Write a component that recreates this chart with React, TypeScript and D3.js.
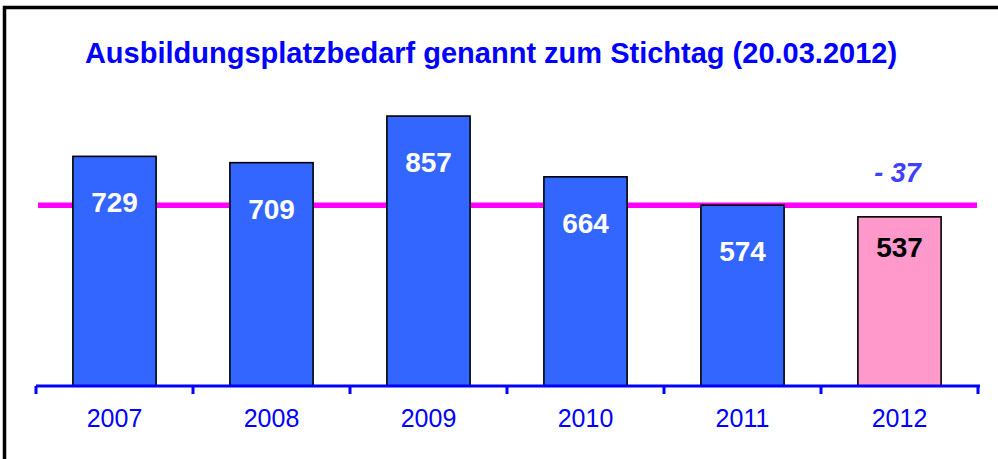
import React from 'react';
import * as d3 from 'd3';

// chart data
const years = ['2007', '2008', '2009', '2010', '2011', '2012'];
const values = [729, 709, 857, 664, 574, 537];
const highlightYear = '2012';
const referenceValue = 574;
const diffLabel = '- 37';
const title = 'Ausbildungsplatzbedarf genannt zum Stichtag (20.03.2012)';

const W = 998;
const H = 459;
const FONT = '"Liberation Sans", Arial, sans-serif';

function Bars({ x, y }) {
    return (
        <g>
            {years.map((yr, i) => {
                const v = values[i];
                const hi = yr === highlightYear;
                return (
                    <rect
                        key={yr}
                        x={x(yr)}
                        y={y(v)}
                        width={x.bandwidth()}
                        height={y(0) - y(v)}
                        fill={hi ? '#ff99cc' : '#3366ff'}
                        stroke="#000"
                        strokeWidth={1.6}
                    />
                );
            })}
        </g>
    );
}

function Labels({ x, y }) {
    return (
        <g fontFamily={FONT} fontWeight="bold" fontSize={28} textAnchor="middle">
            {years.map((yr, i) => {
                const v = values[i];
                const hi = yr === highlightYear;
                return (
                    <text
                        key={yr}
                        x={x(yr) + x.bandwidth() / 2}
                        y={y(v) + (hi ? 40 : 56)}
                        fill={hi ? '#000' : '#fff'}
                    >
                        {v}
                    </text>
                );
            })}
        </g>
    );
}

function Axis({ x, y }) {
    const [x0, x1] = x.range();
    const step = x.step();
    const base = y(0);
    const ticks = d3.range(years.length + 1).map((i) => x0 + i * step);
    return (
        <g>
            <line x1={x0} x2={x1 + 2} y1={base} y2={base} stroke="#0000ff" strokeWidth={3} />
            {ticks.map((t, i) => (
                <line key={i} x1={t} x2={t} y1={base} y2={base + 8} stroke="#0000ff" strokeWidth={3} />
            ))}
            <g fontFamily={FONT} fontSize={25} fill="#0000ff" textAnchor="middle">
                {years.map((yr) => (
                    <text key={yr} x={x(yr) + x.bandwidth() / 2} y={427}>{yr}</text>
                ))}
            </g>
        </g>
    );
}

export default function App() {
    const x = d3
        .scaleBand()
        .domain(years)
        .range([36, 978])
        .paddingInner(0.47)
        .paddingOuter(0.235);

    const y = d3
        .scaleLinear()
        .domain([0, 1000])
        .range([386, 71]);

    const [x0, x1] = x.range();
    const last = years[years.length - 1];

    return (
        <svg
            width={W}
            height={H}
            style={{ position: 'absolute', left: 0, top: 0, background: '#fff' }}
        >
            <rect x={0} y={0} width={W} height={H} fill="#fff" />
            {/* frame, right and bottom edges run off the picture */}
            <rect x={4.5} y={7.5} width={1010} height={470} fill="none" stroke="#000" strokeWidth={3.5} />
            <text
                x={491}
                y={63}
                fontFamily={FONT}
                fontWeight="bold"
                fontSize={29}
                fill="#0000ff"
                textAnchor="middle"
            >
                {title}
            </text>
            <line
                x1={x0 + 2}
                x2={x1 - 1}
                y1={y(referenceValue)}
                y2={y(referenceValue)}
                stroke="#ff00ff"
                strokeWidth={5.5}
            />
            <Bars x={x} y={y} />
            <Labels x={x} y={y} />
            <text
                x={x(last) + x.bandwidth() / 2 - 2}
                y={182}
                fontFamily={FONT}
                fontWeight="bold"
                fontStyle="italic"
                fontSize={27}
                fill="#4040ff"
                textAnchor="middle"
            >
                {diffLabel}
            </text>
            <Axis x={x} y={y} />
        </svg>
    );
}
